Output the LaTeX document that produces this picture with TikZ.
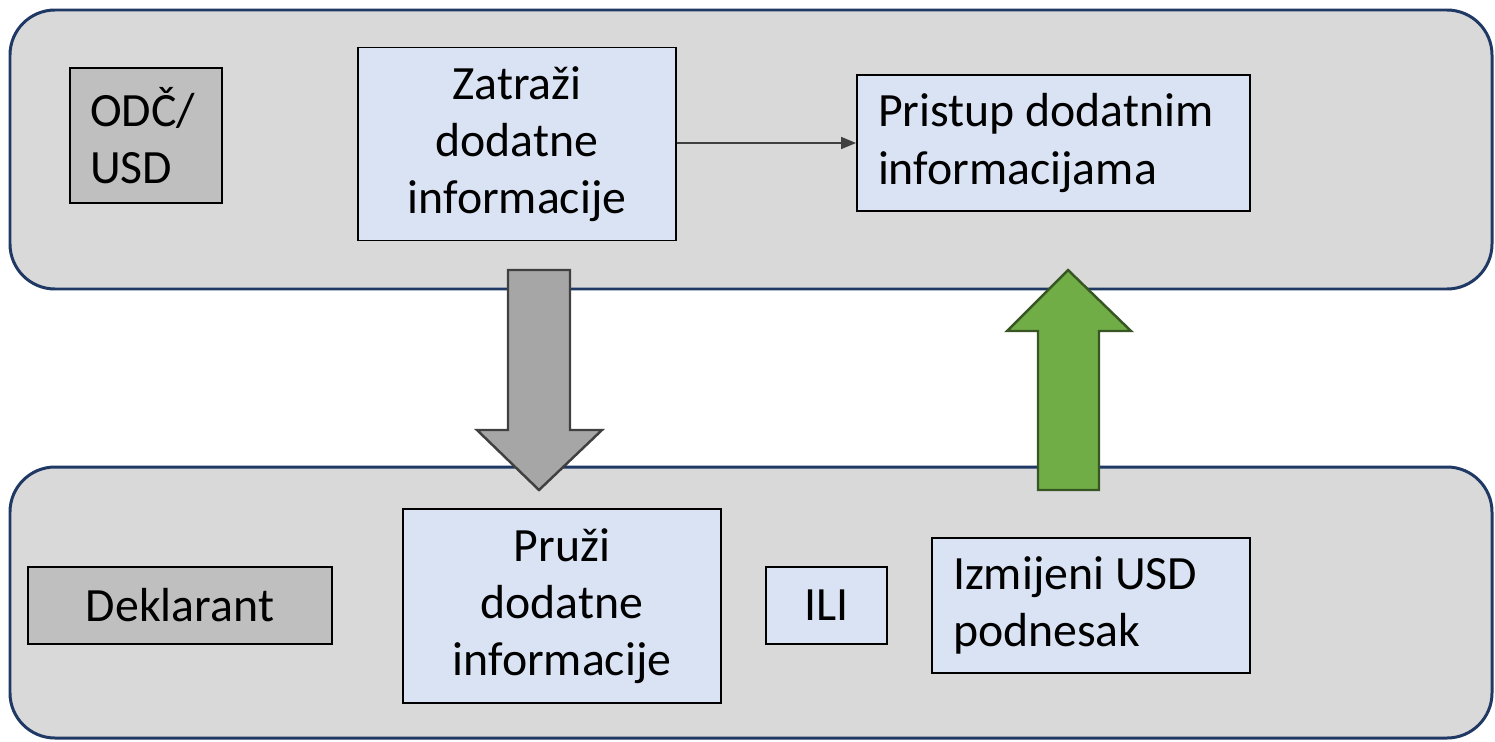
\documentclass[tikz,border=0pt]{standalone}
\usepackage{fontspec}
\setmainfont{Carlito}
\usetikzlibrary{arrows.meta}

\definecolor{lanefill}{HTML}{D9D9D9}
\definecolor{laneline}{HTML}{1F3864}
\definecolor{boxblue}{HTML}{DAE3F3}
\definecolor{boxgray}{HTML}{BFBFBF}
\definecolor{arrgray}{HTML}{A6A6A6}
\definecolor{arrgreen}{HTML}{70AD47}
\definecolor{arrgreenline}{HTML}{375623}

\tikzset{
  lane/.style={draw=laneline, line width=1.7pt, fill=lanefill, rounded corners=0.9cm},
  box/.style={draw=black, line width=1.1pt, inner sep=0pt, font=\fontsize{27.2}{32.6}\selectfont},
  bluebox/.style={box, fill=boxblue},
  graybox/.style={box, fill=boxgray},
  blockarrow/.style={line width=1.4pt, line join=miter}
}

\begin{document}
\begin{tikzpicture}[x=0.02cm, y=-0.02cm]
    \useasboundingbox (0, 0) rectangle (1495, 741);

    % 1. dvije trake (gore ODČ/USD, dolje deklarant)
    \draw [lane] (10, 10) rectangle (1492, 289);
    \draw [lane] (10, 467) rectangle (1492, 738);

    % 2. velike strelice između traka
    \draw [blockarrow, draw=black!75, fill=arrgray]
      (508, 270) -- (570, 270) -- (570, 430) -- (602, 430) -- (539, 490) -- (477, 430) -- (508, 430) -- cycle;
    \draw [blockarrow, draw=arrgreenline, fill=arrgreen]
      (1038, 490) -- (1099, 490) -- (1099, 331) -- (1131, 331) -- (1068, 270) -- (1007, 331) -- (1038, 331) -- cycle;

    % 3. kutije u gornjoj traci
    \node [graybox, minimum width=3.04cm, minimum height=2.7cm, text width=2.24cm, align=flush left] (odc) at (146, 135.5) {ODČ/\\USD};
    \node [bluebox, minimum width=6.36cm, minimum height=3.86cm, text width=6.36cm, align=flush center] (zat) at (517, 144) {Zatraži\\dodatne\\informacije};
    \node [bluebox, minimum width=7.86cm, minimum height=2.72cm, text width=7.02cm, align=flush left] (pri) at (1053.5, 143) {Pristup dodatnim\\informacijama};

    % 4. kutije u donjoj traci
    \node [graybox, minimum width=6.08cm, minimum height=1.54cm, text width=6.08cm, align=flush center] (dek) at (180, 605.5) {Deklarant};
    \node [bluebox, minimum width=6.36cm, minimum height=3.88cm, text width=6.36cm, align=flush center] (pru) at (562, 606) {Pruži\\dodatne\\informacije};
    \node [bluebox, minimum width=2.42cm, minimum height=1.54cm, text width=2.42cm, align=flush center] (ili) at (826.5, 605.5) {ILI};
    \node [bluebox, minimum width=6.36cm, minimum height=2.7cm, text width=5.52cm, align=flush left] (izm) at (1091, 605.5) {Izmijeni USD\\podnesak};

    % 5. tanka strelica zatraži -> pristup
    \draw [line width=0.9pt, draw=black!75, -{Triangle[length=0.3cm, width=0.24cm]}] (zat.east |- 0, 143) -- (pri.west |- 0, 143);
\end{tikzpicture}
\end{document}
